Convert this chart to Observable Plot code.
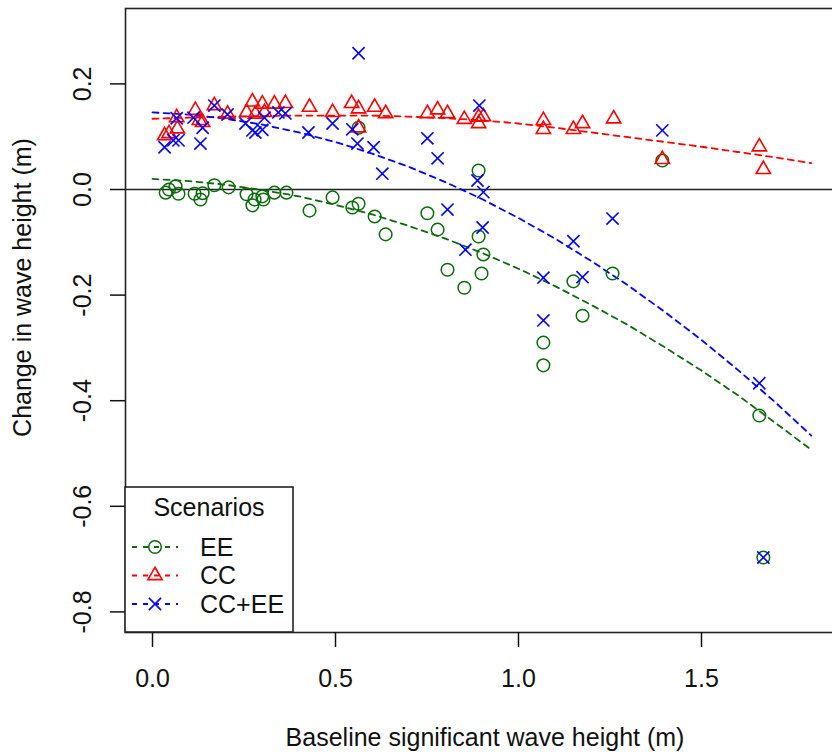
<!DOCTYPE html>
<html>
<head>
<meta charset="utf-8">
<script src="https://cdn.jsdelivr.net/npm/d3@7"></script>
<script src="https://cdn.jsdelivr.net/npm/@observablehq/plot@0.6"></script>
<style>
  html, body { margin: 0; padding: 0; background: white; overflow: hidden; }
</style>
</head>
<body>
<div id="chart"></div>
<script>
// ---- Data ----
const scenarioNames = ["EE", "CC", "CC+EE"];
const scenarioColors = ["#0b6a0b", "#ff0000", "#0000ff"];
const scenarioSymbols = ["circle", "triangle", "times"];

// EE (green circles)
const eeX = [0.036,0.045,0.063,0.071,0.115,0.131,0.137,0.169,0.208,0.257,0.273,0.279,0.300,0.303,0.333,0.366,0.429,0.492,0.546,0.563,0.563,0.607,0.637,0.751,0.779,0.806,0.852,0.891,0.891,0.899,0.904,1.068,1.068,1.150,1.175,1.257,1.393,1.658,1.669];
const eeY = [-0.006,0.000,0.006,-0.008,-0.008,-0.019,-0.007,0.008,0.004,-0.009,-0.030,-0.019,-0.013,-0.019,-0.006,-0.006,-0.040,-0.015,-0.034,-0.027,0.117,-0.051,-0.085,-0.045,-0.076,-0.152,-0.186,0.036,-0.089,-0.159,-0.123,-0.290,-0.333,-0.174,-0.239,-0.159,0.055,-0.428,-0.697];

// CC (red triangles)
const ccX = [0.033,0.045,0.066,0.068,0.117,0.128,0.137,0.169,0.205,0.257,0.273,0.281,0.300,0.306,0.333,0.363,0.429,0.492,0.544,0.563,0.563,0.607,0.637,0.751,0.779,0.806,0.852,0.891,0.891,0.904,1.068,1.068,1.150,1.175,1.260,1.393,1.658,1.669];
const ccY = [0.102,0.106,0.136,0.115,0.150,0.131,0.127,0.159,0.143,0.146,0.166,0.143,0.162,0.146,0.162,0.163,0.156,0.146,0.163,0.153,0.117,0.156,0.144,0.144,0.151,0.144,0.133,0.137,0.125,0.138,0.131,0.114,0.114,0.125,0.134,0.057,0.081,0.038];

// CC+EE (blue crosses)
const ceX = [0.033,0.057,0.066,0.071,0.112,0.131,0.137,0.169,0.205,0.254,0.273,0.281,0.300,0.306,0.344,0.363,0.426,0.492,0.546,0.560,0.563,0.604,0.628,0.751,0.779,0.806,0.855,0.888,0.893,0.902,0.904,1.068,1.068,1.150,1.175,1.257,1.393,1.658,1.669];
const ceY = [0.080,0.093,0.135,0.093,0.136,0.087,0.117,0.159,0.142,0.125,0.112,0.108,0.113,0.136,0.146,0.144,0.108,0.125,0.114,0.087,0.258,0.080,0.030,0.097,0.059,-0.038,-0.114,0.017,0.159,-0.072,-0.005,-0.167,-0.248,-0.098,-0.166,-0.055,0.112,-0.367,-0.697];

// Fitted dashed curves
const fitX  = [0,0.1,0.2,0.3,0.4,0.5,0.6,0.7,0.8,0.9,1.0,1.1,1.2,1.3,1.4,1.5,1.6,1.7,1.8];
const eeFit = [0.020,0.016,0.009,-0.001,-0.013,-0.029,-0.047,-0.069,-0.093,-0.120,-0.150,-0.183,-0.219,-0.257,-0.299,-0.343,-0.390,-0.441,-0.493];
const ccFit = [0.134,0.136,0.138,0.139,0.140,0.140,0.140,0.138,0.135,0.131,0.125,0.117,0.108,0.099,0.090,0.081,0.071,0.061,0.050];
const ceFit = [0.146,0.142,0.134,0.123,0.108,0.090,0.068,0.043,0.014,-0.018,-0.054,-0.093,-0.136,-0.182,-0.232,-0.285,-0.342,-0.402,-0.466];

const xTicks = [0, 0.5, 1.0, 1.5];
const yTicks = [-0.8, -0.6, -0.4, -0.2, 0.0, 0.2];
const xTitle = "Baseline significant wave height (m)";
const yTitle = "Change in wave height (m)";
const legendTitle = "Scenarios";

// ---- Build tables ----
const pts = (xs, ys, s) => xs.map((x, i) => ({x, y: ys[i], s}));
const points = [
  ...pts(eeX, eeY, "EE"),
  ...pts(ccX, ccY, "CC"),
  ...pts(ceX, ceY, "CC+EE")
];
const fits = [
  ...pts(fitX, eeFit, "EE"),
  ...pts(fitX, ccFit, "CC"),
  ...pts(fitX, ceFit, "CC+EE")
];
const colorOf = Object.fromEntries(scenarioNames.map((n, i) => [n, scenarioColors[i]]));

const font = "'Liberation Sans', Arial, Helvetica, sans-serif";
const fmt = d => d.toFixed(1);

const chart = Plot.plot({
  width: 836,
  height: 752,
  marginLeft: 125,
  marginRight: 0,
  marginTop: 8,
  marginBottom: 120,
  style: {fontFamily: font, fontSize: "25px", background: "white", maxWidth: "none", overflow: "hidden", color: "#111"},
  x: {domain: [-0.0738, 1.8689]},
  y: {domain: [-0.839, 0.3428]},
  marks: [
    Plot.ruleY([0], {stroke: "#222", strokeWidth: 1.7}),
    Plot.line(fits, {x: "x", y: "y", z: "s", stroke: d => colorOf[d.s], strokeWidth: 1.8, strokeDasharray: "6,5"}),
    Plot.dot(points.filter(d => d.s === "EE"), {x: "x", y: "y", symbol: "circle", r: 6.3, stroke: colorOf["EE"], strokeWidth: 1.5, fill: "none"}),
    Plot.dot(points.filter(d => d.s === "CC"), {x: "x", y: "y", symbol: "triangle", r: 5.3, stroke: colorOf["CC"], strokeWidth: 1.6, fill: "none"}),
    Plot.dot(points.filter(d => d.s === "CC+EE"), {x: "x", y: "y", symbol: "times", r: 5.6, stroke: colorOf["CC+EE"], strokeWidth: 1.6, fill: "none"}),
    Plot.frame({stroke: "#222", strokeWidth: 1.6}),
    Plot.axisX({ticks: xTicks, tickFormat: fmt, tickSize: 15, tickPadding: 22, strokeWidth: 1.5, label: null}),
    Plot.axisY({ticks: yTicks, tickFormat: fmt, tickSize: 15, tickPadding: 20, tickRotate: -90, strokeWidth: 1.5, label: null}),
    Plot.text([xTitle], {frameAnchor: "bottom", textAnchor: "middle", dx: 4, dy: 113, lineAnchor: "bottom", fontSize: 25}),
    Plot.text([yTitle], {frameAnchor: "left", textAnchor: "middle", dx: -95, dy: -33, rotate: -90, lineAnchor: "bottom", fontSize: 25})
  ]
});

// ---- Legend (inside plot, bottom-left) ----
const svg = d3.select(chart);
const lg = svg.append("g").attr("font-family", font).attr("font-size", 25).attr("text-anchor", "start");
lg.append("rect")
  .attr("x", 125).attr("y", 487).attr("width", 168).attr("height", 145)
  .attr("fill", "white").attr("stroke", "#222").attr("stroke-width", 1.6);
lg.append("text").attr("x", 209).attr("y", 516).attr("text-anchor", "middle").attr("fill", "#111").text(legendTitle);
scenarioNames.forEach((name, i) => {
  const cy = 547 + i * 28.5;
  const c = scenarioColors[i];
  lg.append("line").attr("x1", 132).attr("x2", 178).attr("y1", cy).attr("y2", cy)
    .attr("stroke", c).attr("stroke-width", 1.8).attr("stroke-dasharray", "5,6");
  const sym = scenarioSymbols[i];
  if (sym === "circle") {
    lg.append("circle").attr("cx", 155).attr("cy", cy).attr("r", 6.3)
      .attr("fill", "none").attr("stroke", c).attr("stroke-width", 1.5);
  } else {
    const r = sym === "triangle" ? 5.3 : 5.6;
    const type = sym === "triangle" ? d3.symbolTriangle : d3.symbolTimes;
    lg.append("path").attr("transform", `translate(155,${cy})`)
      .attr("d", d3.symbol(type, r * r * Math.PI)())
      .attr("fill", "none").attr("stroke", c).attr("stroke-width", 1.6);
  }
  lg.append("text").attr("x", 200).attr("y", cy + 8.5).attr("text-anchor", "start").attr("fill", "#111").text(name);
});

document.getElementById("chart").appendChild(chart);
</script>
</body>
</html>
